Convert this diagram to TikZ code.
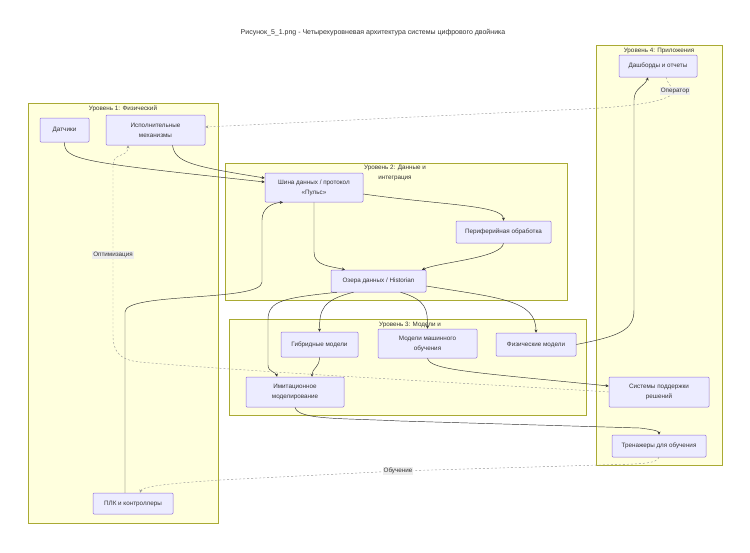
\documentclass[tikz,border=0pt]{standalone}
\usepackage{fontspec}
\setmainfont{Liberation Sans}
\usetikzlibrary{arrows.meta,calc}
\definecolor{clfill}{HTML}{FFFFDE}
\definecolor{clborder}{HTML}{AAAA33}
\definecolor{ndfill}{HTML}{ECECFF}
\definecolor{ndborder}{HTML}{9370DB}
\definecolor{ln}{HTML}{333333}
\begin{document}
\begin{tikzpicture}[x=1pt,y=-1pt,
  cluster/.style={draw=clborder, fill=clfill, line width=0.5pt},
  nd/.style={draw=ndborder, fill=ndfill, line width=0.5pt, rounded corners=1pt, align=center,
    font=\fontsize{6.3}{10}\selectfont, text=ln, inner sep=1pt},
  ctitle/.style={font=\fontsize{6.3}{10}\selectfont, text=ln, align=center, inner sep=1pt},
  edge/.style={draw=ln, line width=0.45pt, -{Stealth[length=3.2pt,width=3pt]}},
  dedge/.style={edge, draw=gray!80, dash pattern=on 2pt off 2pt},
  elabel/.style={fill=black!7, font=\fontsize{6.3}{8}\selectfont, text=ln, inner sep=1pt}
]
\useasboundingbox (0,0) rectangle (750,552);
\fill[white] (0,0) rectangle (750,552);

\node[font=\fontsize{7}{9}\selectfont, text=ln] (title) at (373,33) {Рисунок\_5\_1.png - Четырехуровневая архитектура системы цифрового двойника};

% clusters
\draw[cluster] (28,103) rectangle (218,523);
\node[ctitle] (t1) at (123,108.5) {Уровень 1: Физический};
\draw[cluster] (596,45) rectangle (722,465);
\node[ctitle] (t4) at (659,50.5) {Уровень 4: Приложения};
\draw[cluster] (225,163) rectangle (567,300);
\node[ctitle] (t2) at (395,172.5) {Уровень 2: Данные и\\интеграция};
\draw[cluster] (229,319) rectangle (586,415);
\node[ctitle] (t3) at (410,324.5) {Уровень 3: Модели и};

% nodes
\node[nd, minimum width=49, minimum height=24] (dat) at (64.5,130) {Датчики};
\node[nd, minimum width=99, minimum height=30] (isp) at (155.5,130) {Исполнительные\\механизмы};
\node[nd, minimum width=78, minimum height=22] (dash) at (658,66) {Дашборды и отчеты};
\node[nd, minimum width=98, minimum height=29] (bus) at (314,187.5) {Шина данных / протокол\\«Пульс»};
\node[nd, minimum width=95, minimum height=22] (peri) at (503.5,232) {Периферийная обработка};
\node[nd, minimum width=95, minimum height=22] (lake) at (378.5,281) {Озера данных / Historian};
\node[nd, minimum width=77, minimum height=25] (hyb) at (319.5,344.5) {Гибридные модели};
\node[nd, minimum width=99, minimum height=29] (ml) at (427.5,343.5) {Модели машинного\\обучения};
\node[nd, minimum width=80, minimum height=23] (phys) at (536,344.5) {Физические модели};
\node[nd, minimum width=98, minimum height=30] (sim) at (295,392) {Имитационное\\моделирование};
\node[nd, minimum width=100, minimum height=30] (sys) at (659,392) {Системы поддержки\\решений};
\node[nd, minimum width=94, minimum height=22] (trn) at (659,446) {Тренажеры для обучения};
\node[nd, minimum width=80, minimum height=21] (plk) at (133,503.5) {ПЛК и контроллеры};

% edges
\draw[edge] ([xshift=17]isp.south) .. controls (175,162) and (190,166) .. ([yshift=9.5]bus.west);
\draw[edge] (dat.south) .. controls (64,160) and (80,162) .. ([yshift=5.5]bus.west);
\draw[edge] ([xshift=-8]plk.north) -- (125,312) .. controls (125,292) and (262,302) .. (262,282)
  -- (262,220) .. controls (262,208) and (272,203) .. ([xshift=-31]bus.south);
\draw[edge] ([yshift=-6.5]bus.east) .. controls (440,205) and (503.5,205) .. (peri.north);
\draw[edge] (bus.south) -- (314,252) .. controls (314,266) and (330,266) .. ([xshift=-33.5]lake.north);
\draw[edge] (peri.south) .. controls (502,258) and (440,262) .. ([xshift=43.5]lake.north);
\draw[edge] ([xshift=-25]lake.south) .. controls (322,300) and (319.5,310) .. (hyb.north);
\draw[edge] ([xshift=22]lake.south) .. controls (427,300) and (427.5,310) .. (ml.north);
\draw[edge] ([yshift=-5]lake.east) .. controls (500,298) and (536,300) .. (phys.north);
\draw[edge] ([xshift=6]lake.south west) .. controls (285,298) and (268,300) .. (268,320)
  -- (268,365) .. controls (268,372) and (276,372) .. ([xshift=-18]sim.north);
\draw[edge] (hyb.south) .. controls (319.5,368) and (312,368) .. ([xshift=17]sim.north);
\draw[edge] (phys.east) .. controls (620,336) and (634,330) .. (634,310)
  -- (634,100) .. controls (634,88) and (645,86) .. ([xshift=-10]dash.south);
\draw[edge] (ml.south) .. controls (430,370) and (470,372) .. ([yshift=6]sys.west);
\draw[edge] (sim.south) .. controls (298,420) and (340,418) .. (400,421)
  -- (640,428) .. controls (655,430) and (659,431) .. (trn.north);

% dashed edges with labels
\draw[dedge] ([xshift=8]dash.south) .. controls (668,84) and (672,88) .. (675,91)
  .. controls (670,103) and (620,108) .. (560,110) -- ([yshift=3]isp.east);
\node[elabel] (lop) at (675,91) {Оператор};
\draw[dedge] (sys.west) .. controls (500,385) and (250,372) .. (140,362)
  .. controls (118,360) and (113,350) .. (113,335) -- (113,165)
  .. controls (113,152) and (128,158) .. ([xshift=-27.5]isp.south);
\node[elabel] (lopt) at (113,255) {Оптимизация};
\draw[dedge] (trn.south) .. controls (657,464) and (640,464) .. (600,465) -- (398,471)
  -- (220,480) .. controls (160,484) and (142,487) .. ([xshift=7]plk.north);
\node[elabel] (lobu) at (398,471) {Обучение};
\end{tikzpicture}
\end{document}
